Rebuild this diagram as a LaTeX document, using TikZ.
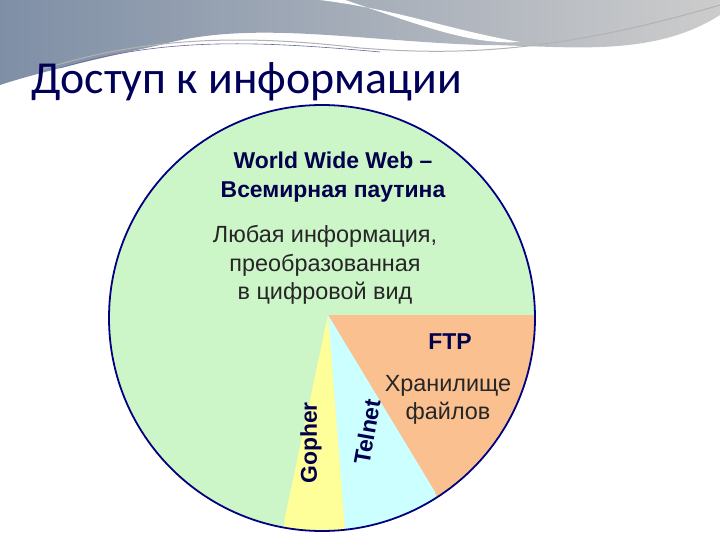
\documentclass[tikz,border=0pt]{standalone}
\usepackage{fontspec}
\setmainfont{Liberation Sans}
\newfontfamily\titlefont{Carlito}
\definecolor{pgreen}{HTML}{CCF5C8}
\definecolor{porange}{HTML}{FAC090}
\definecolor{pcyan}{HTML}{CCFFFF}
\definecolor{pyellow}{HTML}{FFFF99}
\definecolor{hdr}{HTML}{7F8FA6}
\begin{document}
\begin{tikzpicture}[x=1bp,y=-1bp,
  lbl/.style={font=\fontsize{23.5}{28.5}\selectfont, text=black!85, align=center},
  blbl/.style={font=\bfseries\fontsize{23}{29}\selectfont, text=blue!30!black, align=center}]
\useasboundingbox (0,0) rectangle (720,540);
% header
\shade[left color=hdr, right color=gray!40] (0,0) -- (720,0) -- (720,15) .. controls (650,60) and (560,45) .. (480,45) .. controls (350,40) and (250,20) .. (160,45) .. controls (90,60) and (30,75) .. (0,85) -- cycle;
\fill[white] (320,0) .. controls (400,10) and (450,30) .. (520,42) .. controls (470,45) and (420,25) .. (345,0) -- cycle;
\draw[gray!60, line width=1pt] (40,70) .. controls (150,35) and (250,35) .. (360,48) .. controls (450,55) and (550,55) .. (720,5);
\draw[gray!80!blue, line width=0.6pt] (60,68) .. controls (160,38) and (250,40) .. (380,52);
% title
\node[anchor=west, font=\titlefont\fontsize{46}{50}\selectfont, text=blue!35!black] (title) at (28,82) {Доступ к информации};
% pie
\coordinate (c) at (322,318);
\coordinate (apex) at (328,315);
\begin{scope}
\clip (c) circle (213);
\fill[pgreen] (c) circle (213);
\fill[porange] (apex) -- (435,492) -- (470,600) -- (600,600) -- (600,315) -- cycle;
\fill[pcyan] (apex) -- (435,492) -- (470,620) -- (350,620) -- (345,530) -- cycle;
\fill[pyellow] (apex) -- (345,530) -- (350,620) -- (275,620) -- (285,517) -- cycle;
\end{scope}
\draw[blue!50!black, line width=1.8pt] (c) circle (213);
\node[blbl] (www) at (333,177) {World Wide Web –\\Всемирная паутина};
\node[lbl] (any) at (325,265) {Любая информация,\\преобразованная\\в цифровой вид};
\node[blbl] (ftp) at (450,342) {FTP};
\node[lbl] (store) at (448,400) {Хранилище\\файлов};
\node[blbl, rotate=90] (gopher) at (311,443) {Gopher};
\node[blbl, rotate=80] (telnet) at (367,432) {Telnet};
\end{tikzpicture}
\end{document}
